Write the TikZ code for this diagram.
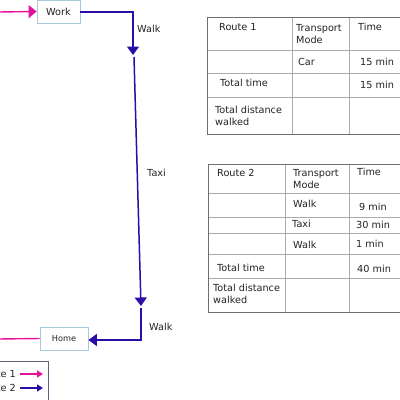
\documentclass[tikz,border=0pt]{standalone}
\usepackage{fontspec}
\setmainfont{DejaVu Sans}
\usetikzlibrary{arrows.meta}
\definecolor{rpink}{HTML}{E5129B}
\definecolor{rblue}{HTML}{2B0CA6}
\definecolor{boxb}{HTML}{A8C8DE}
\definecolor{tout}{HTML}{6E6E6E}
\definecolor{tin}{HTML}{ACACAC}
\definecolor{legb}{HTML}{6C5C7C}
\definecolor{txt}{HTML}{222222}
\tikzset{
  place/.style={draw=boxb, line width=0.8pt, fill=white, minimum width=43pt, minimum height=23pt, inner sep=0pt, text=txt},
  lbl/.style={font=\fontsize{9.7}{11}\selectfont, text=txt, inner sep=0pt, anchor=west},
  cell/.style={font=\fontsize{9.7}{12.5}\selectfont, text=txt, inner sep=0pt, anchor=west, align=left},
  bluearr/.style={draw=rblue, line width=1.5pt, -{Triangle[width=12pt,length=8.5pt]}},
  pinkarr/.style={draw=rpink, line width=1.4pt, -{Triangle[width=13pt,length=8pt]}},
  outer/.style={draw=tout, line width=0.9pt},
  inner/.style={draw=tin, line width=0.7pt},
}
\begin{document}
\begin{tikzpicture}[x=1pt,y=-1pt]
\useasboundingbox (0,0) rectangle (400,400);
\begin{scope}
\clip (0,0) rectangle (400,400);
% places
\node[place, font=\fontsize{9.7}{11}\selectfont] (work) at (58.5,11.5) {Work};
\node[place, minimum width=48pt, font=\fontsize{8.2}{10}\selectfont] (home) at (64,338.5) {Home};
% route 1 (pink)
\coordinate (pin) at (-2,12);
\coordinate (pout) at (-2,339);
\draw[pinkarr] (pin) -- (work.west);
\draw[draw=rpink, line width=1.4pt] (home.west) -- (pout);
% route 2 (blue)
\coordinate (c1) at (133,12);
\coordinate (c2) at (133,55);
\coordinate (c3) at (134,57);
\coordinate (c4) at (141,306);
\coordinate (c5) at (141,308);
\coordinate (c6) at (141,340);
\draw[bluearr] (work.east |- c1) -- (c1) -- (c2);
\draw[bluearr] (c3) -- (c4);
\draw[bluearr] (c5) -- (c6) -- (home.east |- c6);
\node[lbl] (w1) at (137,29) {Walk};
\node[lbl] (tx) at (147,173) {Taxi};
\node[lbl] (w2) at (149,327) {Walk};
% legend
\draw[draw=legb, line width=0.8pt] (-5,361) rectangle (48,405);
\node[lbl, anchor=east] (l1) at (16,374) {Route 1};
\node[lbl, anchor=east] (l2) at (16,388) {Route 2};
\coordinate (a1) at (20,374);
\coordinate (b1) at (43,374);
\coordinate (a2) at (20,388);
\coordinate (b2) at (43,388);
\draw[draw=rpink, line width=1.3pt, -{Triangle[width=7pt,length=6pt]}] (a1) -- (b1);
\draw[draw=rblue, line width=1.3pt, -{Triangle[width=7pt,length=6pt]}] (a2) -- (b2);
% table 1
\draw[inner] (207,50) -- (405,50) (207,73) -- (405,73) (207,97) -- (405,97);
\draw[inner] (292,17) -- (292,134) (349,17) -- (349,134);
\draw[outer] (405,17) -- (207,17) -- (207,134) -- (405,134);
\node[cell] (r1) at (219,27) {Route 1};
\node[cell] (r1m) at (296,34) {Transport\\Mode};
\node[cell] (r1t) at (358,27) {Time};
\node[cell] (r1c) at (298,62) {Car};
\node[cell] (r1a) at (360,62) {15 min};
\node[cell] (r1tt) at (220,83) {Total time};
\node[cell] (r1tv) at (360,85) {15 min};
\node[cell] (r1d) at (215,116) {Total distance\\walked};
% table 2
\draw[inner] (208,193) -- (405,193) (208,217) -- (405,217) (208,233) -- (405,233) (208,254) -- (405,254) (208,278) -- (405,278);
\draw[inner] (285,164) -- (285,312) (349,164) -- (349,312);
\draw[outer] (405,164) -- (208,164) -- (208,312) -- (405,312);
\node[cell] (r2) at (217,173) {Route 2};
\node[cell] (r2m) at (293,179) {Transport\\Mode};
\node[cell] (r2t) at (357,172) {Time};
\node[cell] (r2w1) at (293,204) {Walk};
\node[cell] (r2v1) at (359,207) {9 min};
\node[cell] (r2x) at (292,224) {Taxi};
\node[cell] (r2v2) at (356,225) {30 min};
\node[cell] (r2w2) at (293,245) {Walk};
\node[cell] (r2v3) at (356,244) {1 min};
\node[cell] (r2tt) at (217,268) {Total time};
\node[cell] (r2tv) at (357,269) {40 min};
\node[cell] (r2d) at (213,294) {Total distance\\walked};
\end{scope}
\end{tikzpicture}
\end{document}
